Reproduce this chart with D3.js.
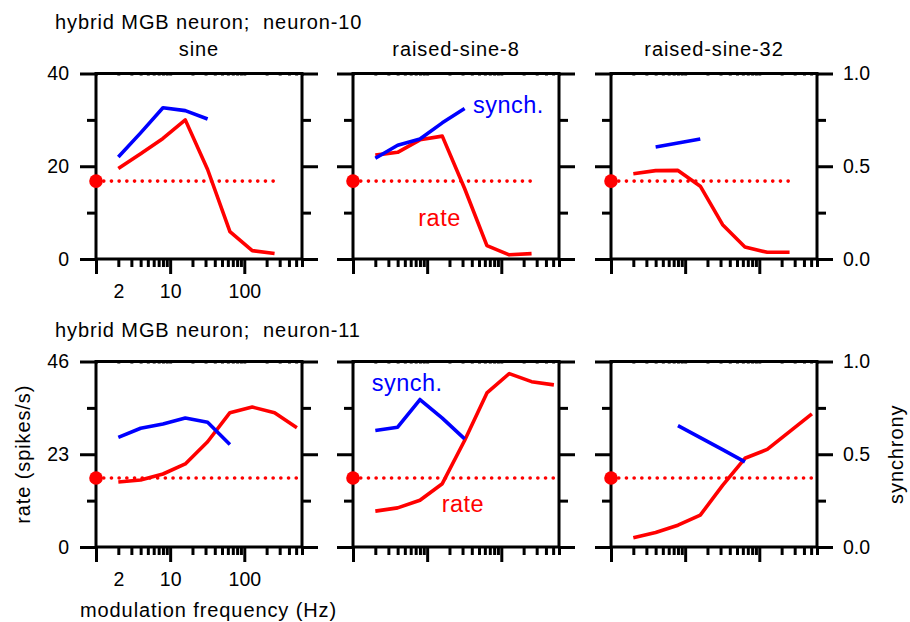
<!DOCTYPE html>
<html>
<head>
<meta charset="utf-8">
<script src="https://cdnjs.cloudflare.com/ajax/libs/d3/7.8.5/d3.min.js"></script>
<style>
  body { margin: 0; background: #fff; }
  svg { display: block; font-family: "Liberation Sans", Arial, sans-serif; }
  .ax path.domain { display: none; }
  .ax line { stroke: #000; stroke-width: 3; }
  .ax text { font-size: 19.5px; fill: #000; }
  .word { font-size: 20px; letter-spacing: 0.9px; fill: #000; white-space: pre; }
  .tag { font-size: 23.5px; letter-spacing: 0.5px; }
</style>
</head>
<body>
<div id="chart"></div>
<script>
// modulation frequencies (Hz)
const freqs = [2, 4, 8, 16, 32, 64, 128, 256, 512];
const stimuli = ["sine", "raised-sine-8", "raised-sine-32"];
const titles = ["hybrid MGB neuron;  neuron-10", "hybrid MGB neuron;  neuron-11"];

// neuron-10: rate (spikes/s) from 2 Hz, synchrony from synchFrom
const rateSine10 = [19.5, 22.7, 26.0, 30.0, 19.3, 5.9, 1.8, 1.2];
const rateRs8_10 = [22.4, 23.0, 25.7, 26.5, 15.2, 2.9, 0.9, 1.15];
const rateRs32_10 = [18.4, 19.05, 19.1, 15.7, 7.4, 2.6, 1.44, 1.44];
const synchSine10 = [0.55, 0.68, 0.815, 0.80, 0.755];
const synchRs8_10 = [0.543, 0.613, 0.647, 0.734, 0.811];
const synchRs32_10 = [0.604, 0.625, 0.647];
const spont10 = 16.8;

// neuron-11
const rateSine11 = [16.1, 16.6, 18.1, 20.6, 26.1, 33.3, 34.7, 33.3, 29.6];
const rateRs8_11 = [8.9, 9.7, 11.6, 15.7, 26.4, 38.2, 43.0, 41.0, 40.2];
const rateRs32_11 = [2.3, 3.6, 5.4, 7.9, 15.3, 22.0, 24.2, 28.6, 33.0];
const synchSine11 = [0.591, 0.640, 0.663, 0.695, 0.672, 0.553];
const synchRs8_11 = [0.628, 0.646, 0.795, 0.695, 0.583];
const synchRs32_11 = [0.654, 0.59, 0.525, 0.459];
const spont11 = 17.1;

// axes
const rateMax = [40, 46];
const rateTicks = [[0, 20, 40], [0, 23, 46]];
const rateMinor = [[10, 30], [11.5, 34.5]];
const synchTicks = [0, 0.5, 1];
const synchMinor = [0.25, 0.75];
const xMajor = [1, 10, 100];
const xMinor = [2, 3, 4, 5, 6, 7, 8, 9, 20, 30, 40, 50, 60, 70, 80, 90, 200, 300, 400, 500, 600];
const xLabels = [2, 10, 100];

const panels = [
  { row: 0, col: 0, rate: rateSine10, synch: synchSine10, synchFrom: 2, spont: spont10 },
  { row: 0, col: 1, rate: rateRs8_10, synch: synchRs8_10, synchFrom: 2, spont: spont10 },
  { row: 0, col: 2, rate: rateRs32_10, synch: synchRs32_10, synchFrom: 4, spont: spont10 },
  { row: 1, col: 0, rate: rateSine11, synch: synchSine11, synchFrom: 2, spont: spont11 },
  { row: 1, col: 1, rate: rateRs8_11, synch: synchRs8_11, synchFrom: 2, spont: spont11 },
  { row: 1, col: 2, rate: rateRs32_11, synch: synchRs32_11, synchFrom: 8, spont: spont11 }
];

// curve labels, placed in data units
const tags = [
  { row: 0, col: 1, text: "synch.", f: 41.5, v: 0.785, on: "synch", color: "#0000ff" },
  { row: 0, col: 1, text: "rate", f: 7.6, v: 7.2, on: "rate", color: "#ff0000" },
  { row: 1, col: 1, text: "synch.", f: 1.79, v: 0.843, on: "synch", color: "#0000ff" },
  { row: 1, col: 1, text: "rate", f: 15.7, v: 8.75, on: "rate", color: "#ff0000" }
];

const panelLeft = [96, 353, 611];
const rowTop = [73.5, 361.5];
const panelW = 206, panelH = 185.5;

const svg = d3.select("#chart").append("svg")
  .attr("width", 910)
  .attr("height", 622);

const x = d3.scaleLog().domain([1, 600]).range([0, panelW]);
const sy = d3.scaleLinear().domain([0, 1]).range([panelH, 0]);

panels.forEach(function(p) {
  let g = svg.append("g")
    .attr("transform", "translate(" + panelLeft[p.col] + "," + rowTop[p.row] + ")");
  let y = d3.scaleLinear().domain([0, rateMax[p.row]]).range([panelH, 0]);

  // frame
  g.append("rect")
    .attr("width", panelW).attr("height", panelH)
    .attr("fill", "none").attr("stroke", "#000").attr("stroke-width", 3);

  // left axis
  g.append("g").attr("class", "ax")
    .call(d3.axisLeft(y).tickValues(rateTicks[p.row]).tickSize(16).tickPadding(11)
      .tickFormat((d) => p.col === 0 ? d : ""));
  g.append("g").attr("class", "ax")
    .call(d3.axisLeft(y).tickValues(rateMinor[p.row]).tickSize(9).tickFormat(""));

  // right axis
  let right = g.append("g").attr("class", "ax").attr("transform", "translate(" + panelW + ",0)");
  right.call(d3.axisRight(sy).tickValues(synchTicks).tickSize(16).tickPadding(10)
    .tickFormat((d) => p.col === 2 ? d3.format(".1f")(d) : ""));
  right.append("g").call(d3.axisRight(sy).tickValues(synchMinor).tickSize(9).tickFormat(""));

  // bottom log axis
  let bottom = g.append("g").attr("class", "ax").attr("transform", "translate(0," + panelH + ")");
  bottom.call(d3.axisBottom(x).tickValues(xMajor).tickSize(15).tickFormat(""));
  bottom.append("g").call(d3.axisBottom(x).tickValues(xMinor).tickSize(8).tickFormat(""));
  if (p.col === 0) {
    bottom.append("g")
      .call(d3.axisBottom(x).tickValues(xLabels).tickSize(0).tickPadding(25).tickFormat(d3.format("d")));
  }

  // faint inner ticks on top
  g.append("g").attr("class", "ax")
    .call(d3.axisTop(x).tickValues(xMajor.concat(xMinor)).tickSize(-2).tickFormat(""))
    .selectAll("line").attr("stroke-width", 0.8);

  let line = d3.line().x((d) => x(d.f)).y((d) => d.y);

  // spontaneous rate
  let last = freqs[p.rate.length - 1];
  g.append("path")
    .attr("d", line([{ f: 1, y: y(p.spont) }, { f: last, y: y(p.spont) }]))
    .attr("fill", "none").attr("stroke", "#ff0000").attr("stroke-width", 3.6)
    .attr("stroke-linecap", "round").attr("stroke-dasharray", "0.1 7.6");

  // rate
  g.append("path")
    .attr("d", line(p.rate.map((v, i) => ({ f: freqs[i], y: y(v) }))))
    .attr("fill", "none").attr("stroke", "#ff0000").attr("stroke-width", 3.6)
    .attr("stroke-linejoin", "round");

  // synchrony
  let s0 = freqs.indexOf(p.synchFrom);
  g.append("path")
    .attr("d", line(p.synch.map((v, i) => ({ f: freqs[s0 + i], y: sy(v) }))))
    .attr("fill", "none").attr("stroke", "#0000ff").attr("stroke-width", 3.6)
    .attr("stroke-linejoin", "round");

  g.append("circle")
    .attr("cx", x(1)).attr("cy", y(p.spont)).attr("r", 6.8)
    .attr("fill", "#ff0000");

  tags.filter((t) => t.row === p.row && t.col === p.col).forEach(function(t) {
    g.append("text").attr("class", "tag")
      .attr("x", x(t.f))
      .attr("y", t.on === "synch" ? sy(t.v) : y(t.v))
      .attr("fill", t.color)
      .text(t.text);
  });
});

// stimulus names
svg.selectAll(".stim").data(stimuli).enter().append("text")
  .attr("class", "word stim")
  .attr("x", (d, i) => panelLeft[i] + panelW / 2)
  .attr("y", 56)
  .attr("text-anchor", "middle")
  .text((d) => d);

// neuron titles
svg.selectAll(".title").data(titles).enter().append("text")
  .attr("class", "word title")
  .attr("x", 55)
  .attr("y", (d, i) => i === 0 ? 29.3 : 336.7)
  .text((d) => d);

svg.append("text").attr("class", "word")
  .attr("x", 80).attr("y", 617)
  .text("modulation frequency (Hz)");

let midY = rowTop[1] + panelH / 2;
svg.append("text").attr("class", "word")
  .attr("transform", "translate(30," + midY + ") rotate(-90)")
  .attr("text-anchor", "middle")
  .text("rate (spikes/s)");

svg.append("text").attr("class", "word")
  .attr("transform", "translate(903," + midY + ") rotate(-90)")
  .attr("text-anchor", "middle")
  .text("synchrony");
</script>
</body>
</html>
